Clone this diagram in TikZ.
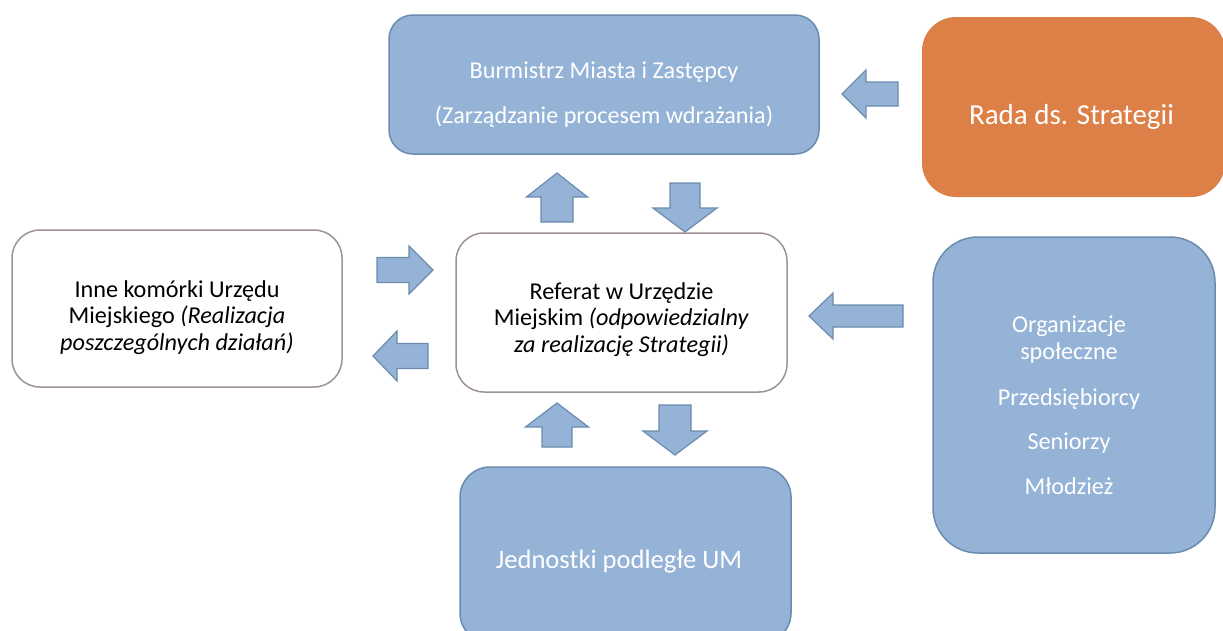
\documentclass[tikz,border=0pt]{standalone}
\usepackage{fontspec}
\setmainfont{Carlito}
\usetikzlibrary{positioning}
\definecolor{boxblue}{HTML}{95B3D7}
\definecolor{lineblue}{HTML}{6A8CAE}
\definecolor{boxorange}{HTML}{DD8047}
\definecolor{linegray}{HTML}{9E9390}
\begin{document}
\begin{tikzpicture}[x=1pt, y=-1pt,
	bluebox/.style={draw=lineblue, fill=boxblue, line width=1.5pt},
	orangebox/.style={fill=boxorange},
	whitebox/.style={draw=linegray, fill=white, line width=1.5pt, rounded corners=28pt},
	lighttext/.style={text=white, align=center, font=\fontsize{24.2}{27.5}\selectfont},
	darktext/.style={text=black, align=center, font=\fontsize{24.2}{26.5}\selectfont},
	bigtext/.style={text=white, align=center, font=\fontsize{29}{35}\selectfont},
	arrowline/.style={draw=lineblue, fill=boxblue, line width=1.2pt},
	pics/barrow/.style n args={3}{code={
		\draw[arrowline] (0,-#2) -- (#1-24,-#2) -- (#1-24,-#3) -- (#1,0)
			-- (#1-24,#3) -- (#1-24,#2) -- (0,#2) -- cycle;
	}}]
	%frame
	\clip (0,0) rectangle (1223,630);
	\fill[white] (0,0) rectangle (1223,630);
	%boxes
	\node[bluebox, minimum width=430, minimum height=139, rounded corners=24pt] (burm) at (604,84.5) {};
	\node[orangebox, minimum width=303, minimum height=180, rounded corners=34pt] (rada) at (1073.5,107) {};
	\node[whitebox, minimum width=330, minimum height=157] (inne) at (177,308.5) {};
	\node[whitebox, minimum width=331, minimum height=159] (ref) at (621.5,312.5) {};
	\node[bluebox, minimum width=331, minimum height=176, rounded corners=30pt] (jedn) at (625.5,555) {};
	\node[bluebox, minimum width=282, minimum height=316, rounded corners=45pt] (org) at (1074,395) {};
	%texts
	\node[lighttext] (burmtxt) at ([yshift=-10pt]burm.center)
		{Burmistrz Miasta i Zastępcy\\[18pt](Zarządzanie procesem wdrażania)};
	\node[bigtext] (radatxt) at ([xshift=-2pt,yshift=-10pt]rada.center) {Rada ds. Strategii};
	\node[darktext] (innetxt) at ([yshift=-9pt]inne.center)
		{Inne komórki Urzędu\\Miejskiego \textit{(Realizacja}\\\textit{poszczególnych działań)}};
	\node[darktext] (reftxt) at ([yshift=-7pt]ref.center)
		{Referat w Urzędzie\\Miejskim \textit{(odpowiedzialny}\\\textit{za realizację Strategii)}};
	\node[bigtext, font=\fontsize{26.6}{32}\selectfont] (jedntxt) at (619,562) {Jednostki podległe UM};
	\node[lighttext] (orgtxt) at ([xshift=-5pt,yshift=-10pt]org.center)
		{Organizacje\\społeczne\\[18pt]Przedsiębiorcy\\[17pt]Seniorzy\\[17pt]Młodzież};
	%arrows
	\foreach \nm/\tx/\ty/\rot/\len/\sh/\hh in {
		radaarr/898/94/180/56/12/24,
		innearr/377/270/0/56/12.5/24,
		refinnearr/428/356/180/55/12.5/25,
		refburmarr/557/222/90/49/16/30.5,
		burmrefarr/685/183/-90/49/15/32,
		jednarr/557/447/90/44/15/31.5,
		refjednarr/675/405/-90/50/16/32,
		orgarr/903/316/180/94/11/23
	}
	\pic[rotate=\rot] (\nm) at (\tx,\ty) {barrow={\len}{\sh}{\hh}};
\end{tikzpicture}
\end{document}
